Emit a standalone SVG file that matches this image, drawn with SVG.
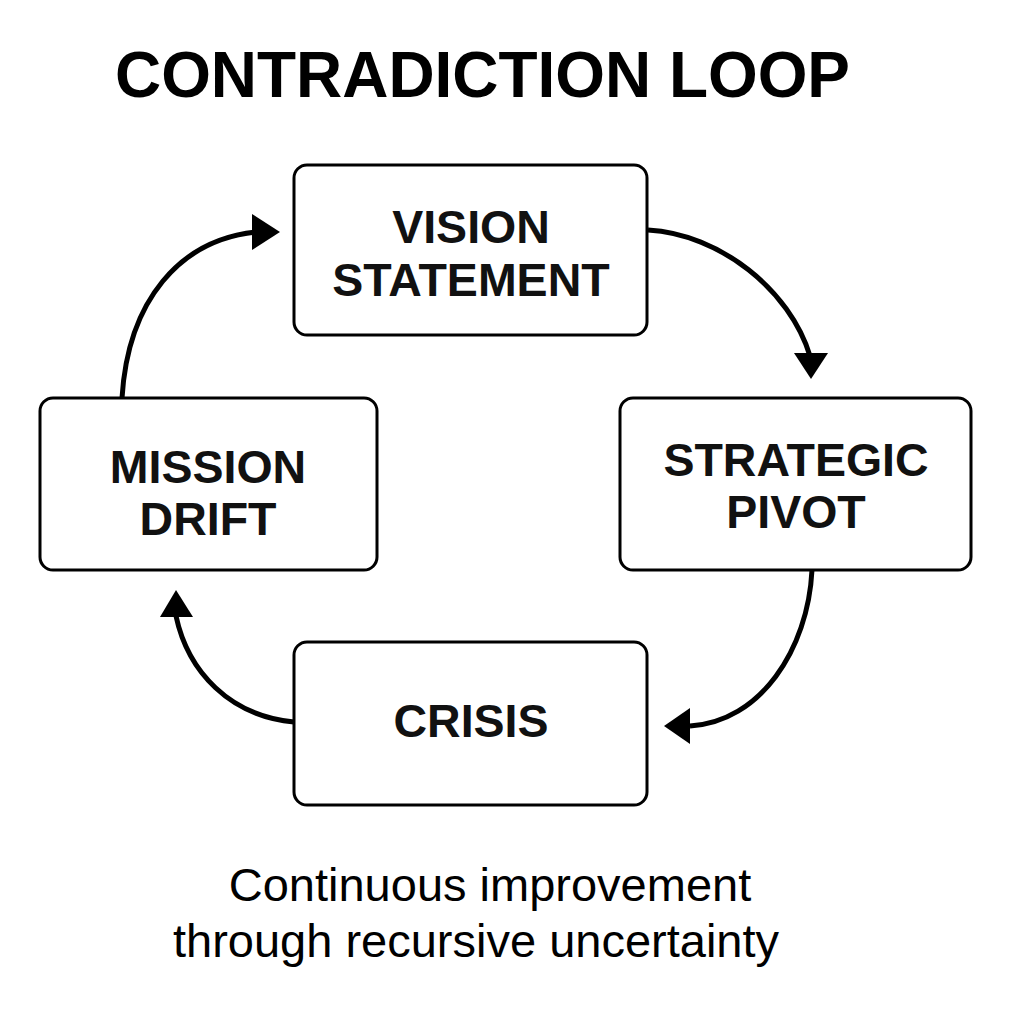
<svg xmlns="http://www.w3.org/2000/svg" width="1024" height="1024" viewBox="0 0 1024 1024">
<style>
.box{fill:#fff;stroke:#000;stroke-width:3}
.lbl{font-family:"Liberation Sans",Arial,sans-serif;font-weight:bold;font-size:46.5px;fill:#111;text-anchor:middle}
.title{font-family:"Liberation Sans",Arial,sans-serif;font-weight:bold;font-size:64px;fill:#000}
.sub{font-family:"Liberation Sans",Arial,sans-serif;font-size:47px;fill:#000;text-anchor:middle}
.conn{fill:none;stroke:#000;stroke-width:5}
.head{fill:#000}
</style>
<rect width="1024" height="1024" fill="#fff"/>
<text class="title" x="115" y="97" textLength="735" lengthAdjust="spacingAndGlyphs">CONTRADICTION LOOP</text>
<g id="connectors">
<path class="conn" d="M122,398 C128,300 180,240 256,232"/>
<polygon class="head" points="280,232 252,214 252,250"/>
<path class="conn" d="M648,230 C720,234 790,290 810,356"/>
<polygon class="head" points="811,379 794,353 828,353"/>
<path class="conn" d="M812,570 C808,650 760,722 690,726"/>
<polygon class="head" points="664,726 690,708 690,744"/>
<path class="conn" d="M294,722 C230,716 188,672 176,616"/>
<polygon class="head" points="176,590 160,617 193,617"/>
</g>
<g id="vision">
<rect class="box" x="294" y="165" width="353" height="170" rx="13"/>
<text class="lbl" x="471" y="243">VISION</text>
<text class="lbl" x="471" y="296">STATEMENT</text>
</g>
<g id="strategic">
<rect class="box" x="620" y="398" width="351" height="172" rx="13"/>
<text class="lbl" x="796" y="476">STRATEGIC</text>
<text class="lbl" x="796" y="528">PIVOT</text>
</g>
<g id="crisis">
<rect class="box" x="294" y="642" width="353" height="163" rx="13"/>
<text class="lbl" x="471" y="737">CRISIS</text>
</g>
<g id="mission">
<rect class="box" x="40" y="398" width="337" height="172" rx="13"/>
<text class="lbl" x="208" y="483">MISSION</text>
<text class="lbl" x="208" y="535">DRIFT</text>
</g>
<text class="sub" x="490" y="901">Continuous improvement</text>
<text class="sub" x="476" y="957">through recursive uncertainty</text>
</svg>
